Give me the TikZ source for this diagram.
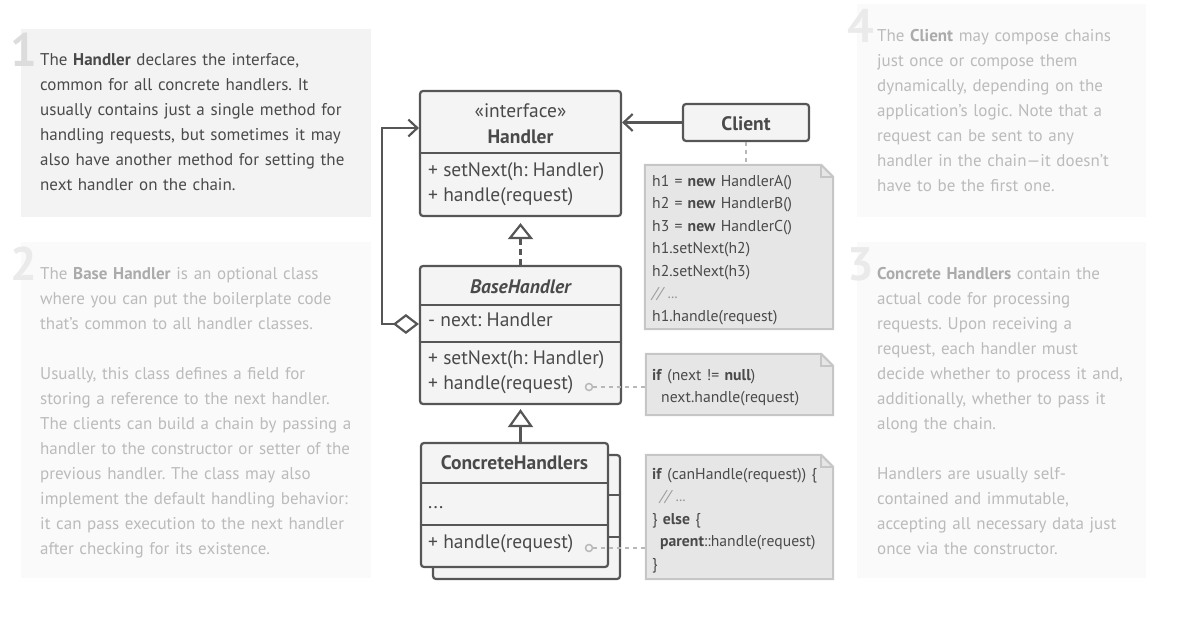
\documentclass[tikz,border=0pt]{standalone}
\usepackage{fontspec}
\setmainfont{PT Sans}
\frenchspacing
\usetikzlibrary{arrows.meta}
\definecolor{linec}{HTML}{565656}
\definecolor{classfill}{HTML}{F4F4F4}
\definecolor{notefill}{HTML}{E6E6E6}
\definecolor{notedraw}{HTML}{C6C6C6}
\definecolor{dotc}{HTML}{B8B8B8}
\definecolor{commentc}{HTML}{9A9A9A}
\definecolor{textc}{HTML}{4A4A4A}
\definecolor{fadec}{HTML}{BBBBBB}
\definecolor{fadebold}{HTML}{ABABAB}
\definecolor{panelone}{HTML}{F3F3F3}
\definecolor{panelfade}{HTML}{FAFAFA}
\definecolor{numone}{HTML}{DCDCDC}
\definecolor{numfade}{HTML}{EAEAEA}
\begin{document}
\begin{tikzpicture}[x=1pt,y=-1pt,
  cls/.style={draw=linec,line width=2.2pt,fill=classfill,rounded corners=3pt,inner sep=0pt},
  divider/.style={draw=linec,line width=2.2pt},
  umltext/.style={inner sep=0pt,text=textc,font=\fontsize{19.5}{25}\selectfont},
  notebox/.style={draw=notedraw,line width=2pt,fill=notefill},
  codetext/.style={inner sep=0pt,text=textc,align=left,text width=180pt,font=\fontsize{15.7}{22.5}\selectfont},
  dotline/.style={draw=dotc,line width=2pt,dash pattern=on 4pt off 4pt},
  dotend/.style={circle,draw=dotc,line width=1.5pt,fill=classfill,minimum size=7pt,inner sep=0pt},
  descr/.style={inner sep=0pt,align=left,text width=330pt,font=\fontsize{17}{25}\selectfont},
  bignum/.style={inner sep=0pt,font=\fontsize{47}{47}\selectfont\bfseries},
  assoc/.style={draw=linec,line width=2.2pt,-{Straight Barb[length=9pt,width=17pt]}}
]
\useasboundingbox (0,0) rectangle (1186,623);

\fill[panelone] (21,29) rectangle (371,217);
\fill[panelfade] (21,242) rectangle (371,578);
\fill[panelfade] (857,4) rectangle (1146,217);
\fill[panelfade] (857,242) rectangle (1146,578);

\node[bignum,text=numone,anchor=base east] (numOne) at (37,67) {1};
\node[bignum,text=numfade,anchor=base east] (numTwo) at (37,280) {2};
\node[bignum,text=numfade,anchor=base east] (numFour) at (874,43) {4};
\node[bignum,text=numfade,anchor=base east] (numThree) at (874,280) {3};

\node[descr,text=textc,anchor=base west] (descOne) at (40,66)
  {The \textbf{Handler} declares the interface,\\
   common for all concrete handlers. It\\
   usually contains just a single method for\\
   handling requests, but sometimes it may\\
   also have another method for setting the\\
   next handler on the chain.};
\node[descr,text=fadec,anchor=base west] (descTwo) at (40,279)
  {The \textcolor{fadebold}{\textbf{Base Handler}} is an optional class\\
   where you can put the boilerplate code\\
   that’s common to all handler classes.\\[25pt]
   Usually, this class defines a field for\\
   storing a reference to the next handler.\\
   The clients can build a chain by passing a\\
   handler to the constructor or setter of the\\
   previous handler. The class may also\\
   implement the default handling behavior:\\
   it can pass execution to the next handler\\
   after checking for its existence.};
\node[descr,text=fadec,anchor=base west] (descFour) at (877,42)
  {The \textcolor{fadebold}{\textbf{Client}} may compose chains\\
   just once or compose them\\
   dynamically, depending on the\\
   application’s logic. Note that a\\
   request can be sent to any\\
   handler in the chain—it doesn’t\\
   have to be the first one.};
\node[descr,text=fadec,anchor=base west] (descThree) at (877,279)
  {\textcolor{fadebold}{\textbf{Concrete Handlers}} contain the\\
   actual code for processing\\
   requests. Upon receiving a\\
   request, each handler must\\
   decide whether to process it and,\\
   additionally, whether to pass it\\
   along the chain.\\[25pt]
   Handlers are usually self-\\
   contained and immutable,\\
   accepting all necessary data just\\
   once via the constructor.};

\node[cls,minimum width=201pt,minimum height=125pt] (handler) at (520.5,153.5) {};
\draw[divider] (handler.west |- 0,153) -- (handler.east |- 0,153);
\node[umltext] (handlerStereo) at (520.5,111) {«interface»};
\node[umltext,font=\fontsize{19.5}{25}\selectfont\bfseries] (handlerName) at (520.5,137) {Handler};
\node[umltext,anchor=mid west] (handlerSet) at (428,174) {+ setNext(h: Handler)};
\node[umltext,anchor=mid west] (handlerHandle) at (428,199) {+ handle(request)};

\node[cls,minimum width=126pt,minimum height=37pt] (client) at (746,122.5) {};
\node[umltext,font=\fontsize{19.5}{25}\selectfont\bfseries] (clientName) at (746,124) {Client};

\node[cls,minimum width=201pt,minimum height=138pt] (baseHandler) at (520.5,335) {};
\draw[divider] (baseHandler.west |- 0,305) -- (baseHandler.east |- 0,305);
\draw[divider] (baseHandler.west |- 0,342) -- (baseHandler.east |- 0,342);
\node[umltext,font=\fontsize{19.5}{25}\selectfont\bfseries\itshape] (baseName) at (520.5,287) {BaseHandler};
\node[umltext,anchor=mid west] (baseNext) at (428,324) {- next: Handler};
\node[umltext,anchor=mid west] (baseSet) at (428,362) {+ setNext(h: Handler)};
\node[umltext,anchor=mid west] (baseHandle) at (428,387) {+ handle(request)};

\node[cls,minimum width=187pt,minimum height=124pt] (concreteBack) at (526.5,517) {};
\draw[divider] (concreteBack.west |- 0,495) -- (concreteBack.east |- 0,495);
\draw[divider] (concreteBack.west |- 0,537) -- (concreteBack.east |- 0,537);
\node[cls,minimum width=187pt,minimum height=124pt] (concrete) at (514.5,505) {};
\draw[divider] (concrete.west |- 0,483) -- (concrete.east |- 0,483);
\draw[divider] (concrete.west |- 0,525) -- (concrete.east |- 0,525);
\node[umltext,font=\fontsize{19.5}{25}\selectfont\bfseries] (concreteName) at (514.5,463) {ConcreteHandlers};
\node[umltext,anchor=mid west] (concreteDots) at (428,506) {...};
\node[umltext,anchor=mid west] (concreteHandle) at (428,546) {+ handle(request)};

\node[minimum width=188pt,minimum height=164pt,inner sep=0pt] (clientNote) at (739,247) {};
\draw[notebox] (clientNote.north west) -- ([xshift=-12pt]clientNote.north east) -- ([yshift=-12pt]clientNote.north east) -- (clientNote.south east) -- (clientNote.south west) -- cycle;
\draw[draw=notedraw,line width=1.5pt] ([xshift=-12pt]clientNote.north east) |- ([yshift=-12pt]clientNote.north east);
\node[codetext,anchor=base west] (clientCode) at (652,186)
  {h1 = \textbf{new} HandlerA()\\
   h2 = \textbf{new} HandlerB()\\
   h3 = \textbf{new} HandlerC()\\
   h1.setNext(h2)\\
   h2.setNext(h3)\\
   {\color{commentc}\itshape // ...}\\
   h1.handle(request)};

\node[minimum width=187pt,minimum height=61pt,inner sep=0pt] (nextNote) at (739.5,384.5) {};
\draw[notebox] (nextNote.north west) -- ([xshift=-12pt]nextNote.north east) -- ([yshift=-12pt]nextNote.north east) -- (nextNote.south east) -- (nextNote.south west) -- cycle;
\draw[draw=notedraw,line width=1.5pt] ([xshift=-12pt]nextNote.north east) |- ([yshift=-12pt]nextNote.north east);
\node[codetext,anchor=base west] (nextCode) at (652,380)
  {\textbf{if} (next != \textbf{null})\\
   \hspace*{9pt}next.handle(request)};

\node[minimum width=187pt,minimum height=124pt,inner sep=0pt] (concreteNote) at (739.5,517) {};
\draw[notebox] (concreteNote.north west) -- ([xshift=-12pt]concreteNote.north east) -- ([yshift=-12pt]concreteNote.north east) -- (concreteNote.south east) -- (concreteNote.south west) -- cycle;
\draw[draw=notedraw,line width=1.5pt] ([xshift=-12pt]concreteNote.north east) |- ([yshift=-12pt]concreteNote.north east);
\node[codetext,anchor=base west] (concreteCode) at (652,479)
  {\textbf{if} (canHandle(request)) \{\\
   \hspace*{8pt}{\color{commentc}\itshape // ...}\\
   \} \textbf{else} \{\\
   \hspace*{8pt}\textbf{parent}::handle(request)\\
   \}};

\draw[assoc] (client.west) -- (handler.east |- client.west);
\draw[dotline] (client.south) -- (client.south |- clientNote.north);

\draw[draw=linec,line width=2.2pt,dash pattern=on 6pt off 4pt,shorten >=6pt,-{Triangle[open,length=16pt,width=25pt]}] (baseHandler.north) -- (handler.south);
\draw[draw=linec,line width=2.2pt,shorten >=4pt,-{Triangle[open,length=18pt,width=25pt]}] (baseHandler.south |- concrete.north) -- (baseHandler.south);

\draw[draw=linec,line width=2.2pt,{Diamond[fill=white,length=26pt,width=20pt]}-{Straight Barb[length=9pt,width=17pt]}] ([yshift=11pt]baseHandler.west) -- ++(-37,0) |- ([yshift=25.5pt]handler.west);

\node[dotend] (baseDot) at (589,387) {};
\draw[dotline] (baseDot) -- (baseDot -| nextNote.west);
\node[dotend] (concreteDot) at (589,548) {};
\draw[dotline] (concreteDot) -- (concreteDot -| concreteNote.west);
\end{tikzpicture}
\end{document}
